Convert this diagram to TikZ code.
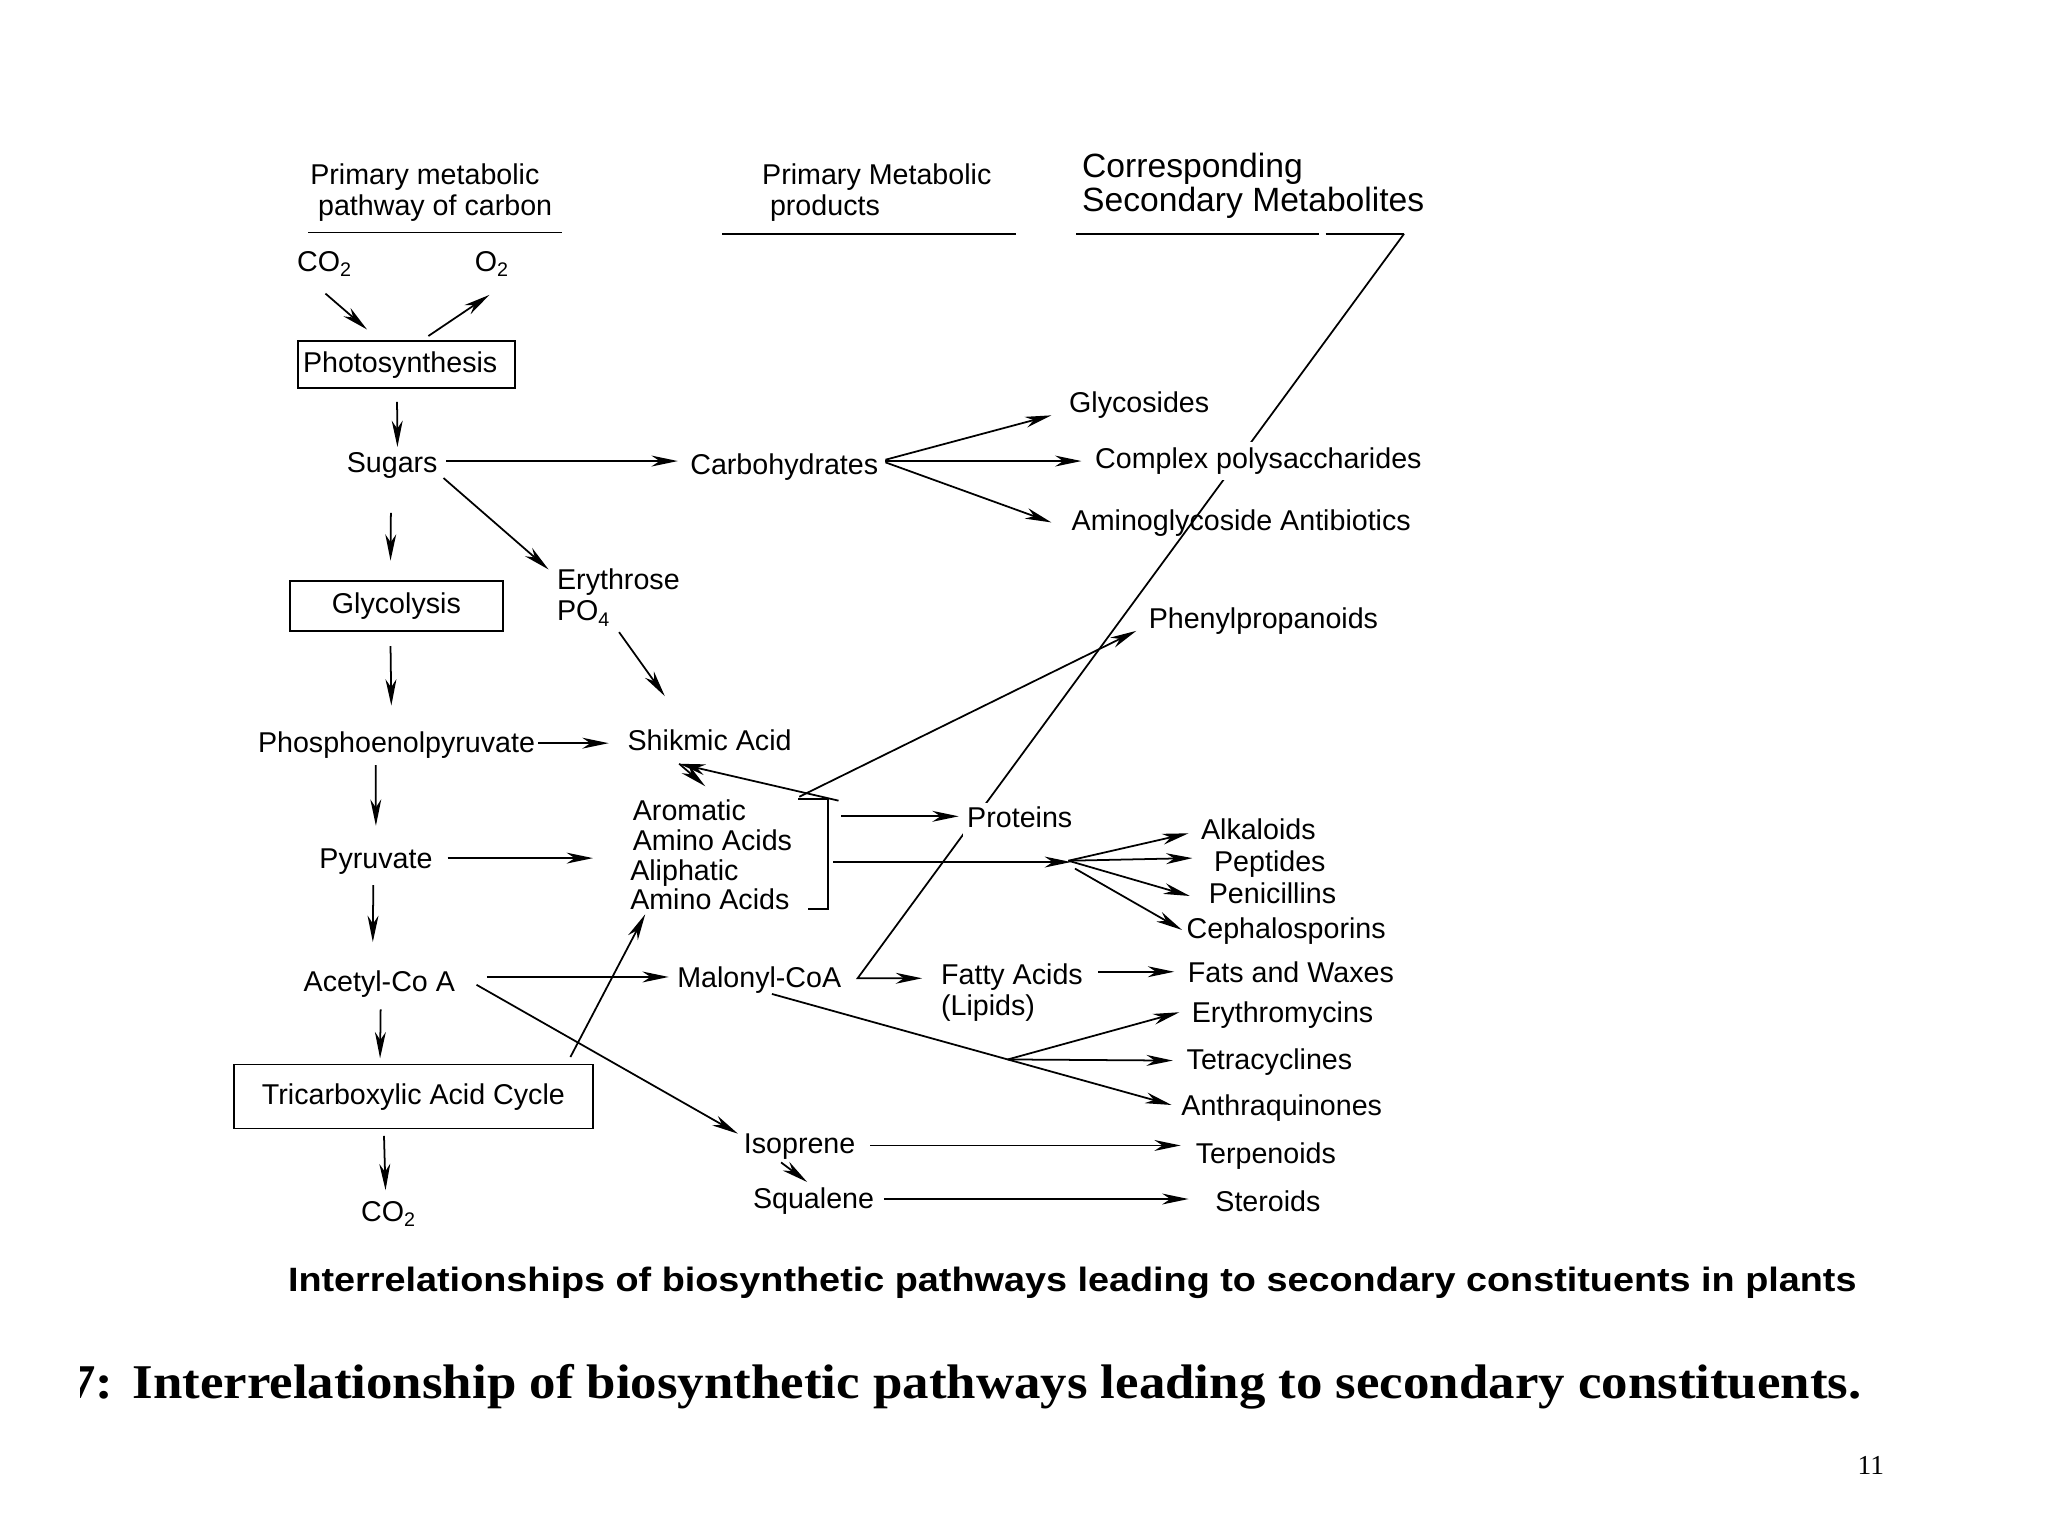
\documentclass[tikz,border=0pt]{standalone}
\usepackage{fontspec}
\setmainfont{Liberation Sans}
\newfontfamily\capsans[FakeStretch=1.12]{Liberation Sans}
\newfontfamily\capserif[FakeStretch=1.09]{Liberation Serif}
\newfontfamily\pageserif{Liberation Serif}
\usetikzlibrary{arrows.meta, backgrounds}

\newlength\pxu
\setlength\pxu{0.37163pt}
\newcommand\lblfont{\fontsize{8.15}{8.9}\selectfont}
\newcommand\chsub[1]{\raisebox{-1.5pt}{\fontsize{5.6}{6}\selectfont #1}}

\begin{document}
\begin{tikzpicture}[
    x=\pxu, y=-\pxu,
    % Base styles
    lbl/.style={inner sep=0pt, anchor=west, font=\lblfont, text height=6pt, text depth=1.6pt},
    blk/.style={inner sep=0pt, anchor=north west, align=left, font=\lblfont},
    % Boxes for the primary pathway steps
    procbox/.style={draw, line width=0.55pt, inner sep=0pt, font=\lblfont, text height=6pt, text depth=1.6pt},
    % Lines and arrows
    link/.style={line width=0.5pt},
    arr/.style={-{Stealth[length=7.5pt, width=3.1pt, inset=2.3pt]}, line width=0.5pt},
    % Captions
    capfont/.style={inner sep=0pt, anchor=base west, font=\capserif\bfseries\fontsize{13.8}{15}\selectfont},
]
\useasboundingbox (0,0) rectangle (1568,1176);

% Column headers
\node[blk] (hdrpath) at (237,125) {Primary metabolic\\\hspace*{6\pxu}pathway of carbon};
\node[blk] (hdrprod) at (583,125) {Primary Metabolic\\\hspace*{6\pxu}products};
\node[blk, font=\fontsize{9.57}{9.7}\selectfont] (hdrsec) at (828,117) {Corresponding\\Secondary Metabolites};
\draw[link] ([shift={(-1,53)}]hdrpath.north west) -- ++(194,0);
\draw[link] ([shift={(-30,54)}]hdrprod.north west) -- ++(225,0);
\draw[link] ([shift={(-4,62)}]hdrsec.north west) -- ++(186,0);
\draw[link] ([shift={(187,62)}]hdrsec.north west) -- ++(60,0) coordinate (kink);

% Primary pathway of carbon
\node[lbl] (co2in) at (227,202) {CO\chsub{2}};
\node[lbl] (o2out) at (363,202) {O\chsub{2}};
\node[procbox, minimum width=166\pxu, minimum height=36\pxu, text width=158\pxu, inner xsep=4\pxu, align=left] (photo) at (311,279) {Photosynthesis};
\node[lbl] (sugars) at (265,356) {Sugars};
\node[procbox, minimum width=163\pxu, minimum height=38\pxu] (glyc) at (303.5,464) {Glycolysis};
\node[lbl] (pep) at (197,570) {Phosphoenolpyruvate};
\node[lbl] (pyr) at (244,659) {Pyruvate};
\node[lbl] (acetyl) at (232,753) {Acetyl-Co A};
\node[procbox, minimum width=275\pxu, minimum height=49\pxu] (tca) at (316.5,839.5) {Tricarboxylic Acid Cycle};
\node[lbl] (co2out) at (276,929) {CO\chsub{2}};

% Primary metabolic products
\node[lbl] (carb) at (528,357) {Carbohydrates};
\node[blk] (eryth) at (426,435) {Erythrose\\PO\chsub{4}};
\node[lbl] (shik) at (480,569) {Shikmic Acid};
\node[blk, font=\fontsize{8.15}{8.45}\selectfont] (aacids) at (484,612) {Aromatic\\Amino Acids\\\hspace*{-2\pxu}Aliphatic\\\hspace*{-2\pxu}Amino Acids};
\node[lbl, fill=white, inner sep=3\pxu] (prot) at (737,628) {Proteins};
\node[lbl] (malonyl) at (518,750) {Malonyl-CoA};
\node[blk] (fatty) at (720,737) {Fatty Acids\\(Lipids)};
\node[lbl] (iso) at (569,877) {Isoprene};
\node[lbl] (squal) at (576,919) {Squalene};

% Secondary metabolites
\node[lbl] (glycos) at (818,310) {Glycosides};
\node[lbl, fill=white, inner sep=4\pxu] (cpoly) at (834,353) {Complex polysaccharides};
\node[lbl] (amgly) at (820,400) {Aminoglycoside Antibiotics};
\node[lbl] (phenyl) at (879,475) {Phenylpropanoids};
\node[lbl] (alk) at (919,637) {Alkaloids};
\node[lbl] (pept) at (929,661) {Peptides};
\node[lbl] (peni) at (925,686) {Penicillins};
\node[lbl] (ceph) at (908,713) {Cephalosporins};
\node[lbl] (fats) at (909,746) {Fats and Waxes};
\node[lbl] (ery) at (912,777) {Erythromycins};
\node[lbl] (tetra) at (908,813) {Tetracyclines};
\node[lbl] (anthra) at (904,848) {Anthraquinones};
\node[lbl] (terp) at (915,885) {Terpenoids};
\node[lbl] (ster) at (930,922) {Steroids};

% Arrows: left column
\draw[arr] ([shift={(1,12)}]co2in.south) -- ([shift={(-30,-8)}]photo.north);
\draw[arr] ([shift={(17,-3)}]photo.north) -- ([shift={(-1.5,13)}]o2out.south);
\draw[arr] ([shift={(-7,10)}]photo.south) -- ([shift={(4,-3)}]sugars.north);
\draw[arr] ([shift={(-1,26)}]sugars.south) -- ([shift={(-4.5,-15)}]glyc.north);
\draw[arr] ([shift={(-4.5,11)}]glyc.south) -- ([shift={(-4,-19)}]pep.north);
\draw[arr] ([shift={(-16,5)}]pep.south) -- ([shift={(0,-16)}]pyr.north);
\draw[arr] ([shift={(-2,8)}]pyr.south) -- ([shift={(-5,-21)}]acetyl.north);
\draw[arr] ([shift={(1,9)}]acetyl.south) -- ([shift={(-25.5,-4)}]tca.north);
\draw[arr] ([shift={(-22.5,5)}]tca.south) -- ([shift={(-2,-7)}]co2out.north);

% Arrows: into the products
\draw[arr] ([shift={(6,-3)}]sugars.east) -- ([shift={(-9,-4)}]carb.west);
\draw[arr] ([shift={(4,10)}]sugars.east) -- ([shift={(-6,1)}]eryth.north west);
\draw[arr] ([shift={(2,-1)}]pep.east) -- ([shift={(-14,0)}]shik.west);
\draw[arr] ([shift={(11,-2)}]pyr.east) -- ([shift={(-30,45)}]aacids.north west);
\draw[arr] ([shift={(24,-5)}]acetyl.east) -- ([shift={(-6,-2)}]malonyl.west);
\draw[arr] ([shift={(16,1)}]acetyl.east) -- ([shift={(-4,-9)}]iso.west);
\draw[arr] ([shift={(-18,-5)}]tca.north east) -- ([shift={(10,88)}]aacids.north west);
\draw[arr] ([shift={(48,49)}]eryth.north west) -- ([shift={(29,-36)}]shik.west);
\draw[arr] ([shift={(40,5)}]shik.south west) -- ([shift={(56,-10)}]aacids.north west);

% Carbohydrates fan
\draw[arr] ([shift={(5,-5)}]carb.east) -- ([shift={(-13,8)}]glycos.west);
\draw[arr] ([shift={(5,-4)}]carb.east) -- ([shift={(-6,0)}]cpoly.west);
\draw[arr] ([shift={(5,-3)}]carb.east) -- ([shift={(-15,0)}]amgly.west);

% Amino acid bracket and its branches
\coordinate (brk) at ([shift={(150,0)}]aacids.north west);
\coordinate (fanaa) at ([shift={(184,47)}]brk);
\draw[link] ([shift={(-23,0)}]brk) -- (brk) -- ++(0,84) -- ++(-15,0);
\draw[arr] ([shift={(8,1)}]brk) -- ([shift={(40,5)}]shik.south west);
\draw[arr] ([shift={(-22,-2)}]brk) -- ([shift={(-9,8)}]phenyl.west);
\draw[arr] ([shift={(10,13)}]brk) -- ([shift={(-3,-3)}]prot.west);
\draw[arr] ([shift={(4,48)}]brk) -- ([shift={(2,1)}]fanaa);
\draw[arr] (fanaa) -- ([shift={(-9,1)}]alk.west);
\draw[arr] (fanaa) -- ([shift={(-16,-4)}]pept.west);
\draw[arr] (fanaa) -- ([shift={(-14,0)}]peni.west);
\draw[arr] ([shift={(5,6)}]fanaa) -- ([shift={(-3,-1)}]ceph.west);

% Long line from the header down to the fatty acids
\begin{pgfonlayer}{background}
\draw[arr] (kink) -- ([shift={(12,-1)}]malonyl.east) -- ([shift={(-14,12)}]fatty.north west);
\end{pgfonlayer}

% Malonyl-CoA and isoprene branches
\draw[arr] ([shift={(121,7)}]fatty.north west) -- ([shift={(-10,-2)}]fats.west);
\draw[arr] ([shift={(73,11)}]malonyl.west) -- coordinate[pos=0.59] (fanpk) ([shift={(-7,-2)}]anthra.west);
\draw[arr] (fanpk) -- ([shift={(-9,-2)}]ery.west);
\draw[arr] (fanpk) -- ([shift={(-10,-1)}]tetra.west);
\draw[arr] ([shift={(11,0)}]iso.east) -- ([shift={(-11,-8)}]terp.west);
\draw[arr] ([shift={(29,13)}]iso.west) -- ([shift={(42,-14)}]squal.west);
\draw[arr] ([shift={(7,-1)}]squal.east) -- ([shift={(-20,-4)}]ster.west);

% Captions
\node[inner sep=0pt, anchor=base west, font=\capsans\bfseries\fontsize{9.6}{10}\selectfont] (capdiag) at (220,989) {Interrelationships of biosynthetic pathways leading to secondary constituents in plants};
\node[capfont] (capfig) at (101,1071) {Interrelationship of biosynthetic pathways leading to secondary constituents.};
\begin{scope}
\clip (62,1000) rectangle (100,1100);
\node[capfont, anchor=base east] (capnum) at (87.5,1071) {7:};
\end{scope}
\node[inner sep=0pt, anchor=base east, font=\pageserif\fontsize{7.8}{9}\selectfont] (pagenum) at (1443,1129) {11};

\end{tikzpicture}
\end{document}
